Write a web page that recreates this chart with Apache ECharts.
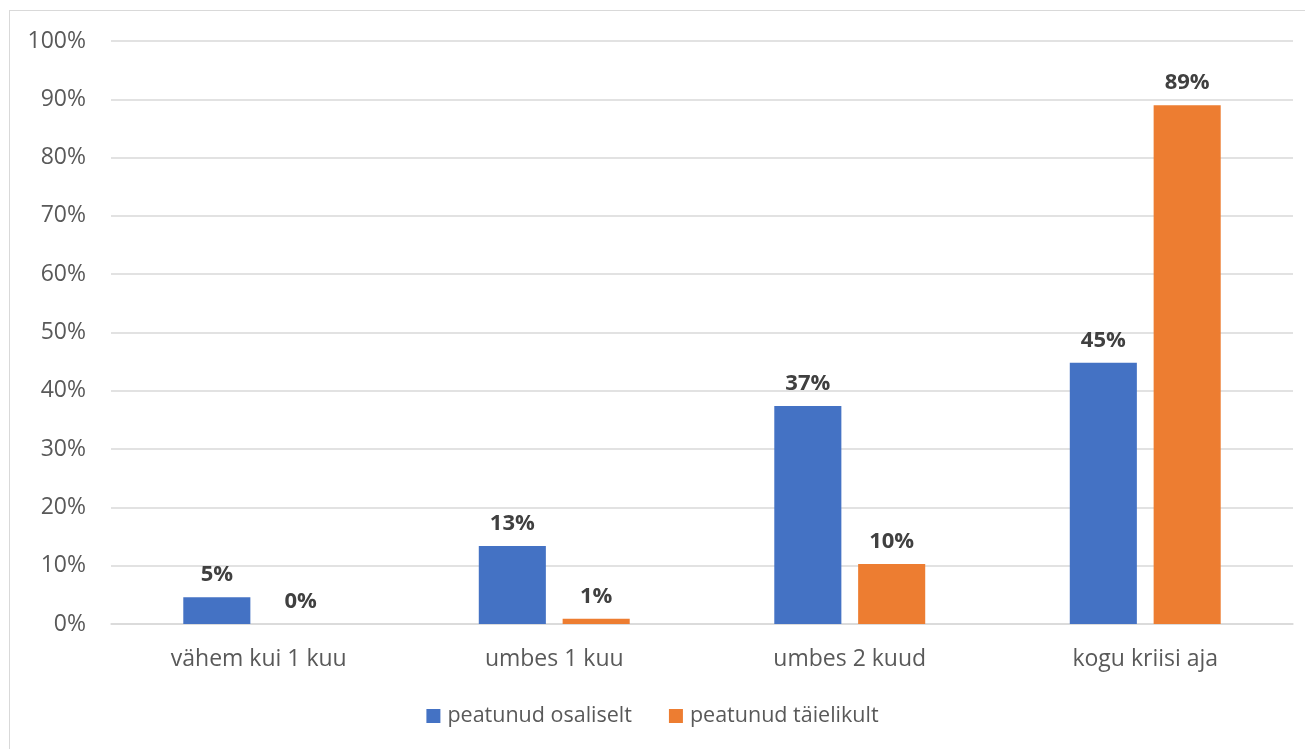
<!DOCTYPE html>
<html><head><meta charset="utf-8">
<script src="https://cdn.jsdelivr.net/npm/echarts@6/dist/echarts.min.js"></script>
<style>
html,body{margin:0;padding:0;background:#fff;}
#frame{position:absolute;left:9px;top:10px;width:1300px;height:745px;border:1px solid #d9d9d9;box-sizing:border-box;}
#c{position:absolute;left:0;top:0;width:1305px;height:749px;}
</style></head>
<body><div id="frame"></div><div id="c"></div>
<script>
const categories = ['vähem kui 1 kuu','umbes 1 kuu','umbes 2 kuud','kogu kriisi aja'];
const seriesNames = ['peatunud osaliselt','peatunud täielikult'];
const partial = [4.6, 13.4, 37.4, 44.8];
const full = [0, 0.9, 10.3, 89.0];
const partialLabels = ['5%','13%','37%','45%'];
const fullLabels = ['0%','1%','10%','89%'];
const yTicks = [0,10,20,30,40,50,60,70,80,90,100];

const chart = echarts.init(document.getElementById('c'));
const font = '"Open Sans", "Noto Sans", sans-serif';
function mk(name, data, labels, color){
  return {name, type:'bar', data, barWidth:'22.7%', barGap:'25%',
    itemStyle:{color},
    label:{show:true, position:'top', distance:11, fontSize:22, fontWeight:'bold', color:'#404040', fontFamily:font,
      formatter:p=>labels[p.dataIndex]}};
}
chart.setOption({
  animation:false,
  textStyle:{fontFamily:font},
  grid:{left:111, right:12, top:41, bottom:125, containLabel:false},
  xAxis:{type:'category', data:categories,
    axisLine:{lineStyle:{color:'#d9d9d9', width:1.5}}, axisTick:{show:false},
    axisLabel:{fontSize:23, color:'#595959', margin:24, fontFamily:font}},
  yAxis:{type:'value', min:0, max:100, interval:10,
    axisLabel:{fontSize:23, color:'#595959', margin:25, fontFamily:font, formatter:v=>yTicks.includes(v)?v+'%':''},
    splitLine:{lineStyle:{color:'#d9d9d9', width:1.5}}, axisLine:{show:false}, axisTick:{show:false}},
  legend:{bottom:17, left:'center', itemWidth:14, itemHeight:14, itemGap:37, icon:'rect',
    textStyle:{fontSize:21.5, color:'#595959', fontFamily:font, padding:[0,0,0,2]}, data:seriesNames},
  series:[mk(seriesNames[0], partial, partialLabels, '#4472c4'), mk(seriesNames[1], full, fullLabels, '#ed7d31')]
});
</script></body></html>
